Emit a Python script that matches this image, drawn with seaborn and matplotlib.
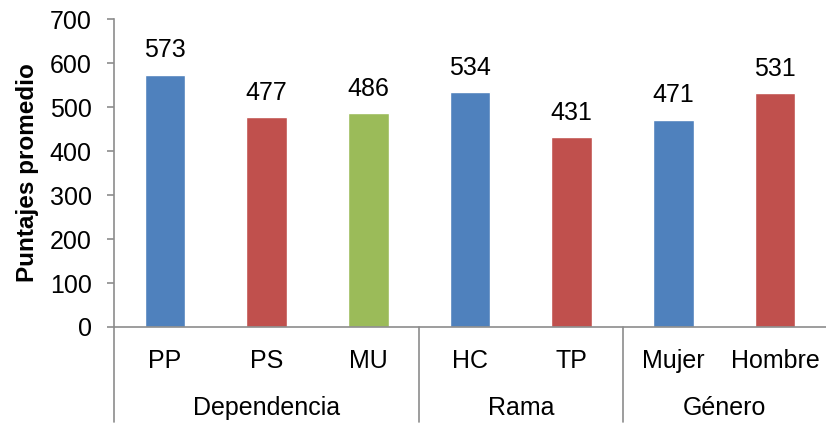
import matplotlib
matplotlib.use("Agg")
import matplotlib.pyplot as plt
import seaborn as sns
import pandas as pd
from matplotlib.lines import Line2D

categories = ["PP", "PS", "MU", "HC", "TP", "Mujer", "Hombre"]
values = [573, 477, 486, 534, 431, 471, 531]
groups = ["Dependencia", "Dependencia", "Dependencia", "Rama", "Rama", "Género", "Género"]
palette_keys = ["a", "b", "c", "a", "b", "a", "b"]
palette = {"a": "#4F81BD", "b": "#C0504D", "c": "#9BBB59"}
group_names = ["Dependencia", "Rama", "Género"]
y_ticks = [0, 100, 200, 300, 400, 500, 600, 700]

sns.set_theme(style="white")
plt.rcParams["font.family"] = ["Liberation Sans", "DejaVu Sans"]

df = pd.DataFrame({"cat": categories, "val": values, "key": palette_keys})

fig = plt.figure(figsize=(8.26, 4.25), dpi=100)
ax = fig.add_axes([0.138, 0.2306, 0.862, 0.7244])

sns.barplot(data=df, x="cat", y="val", hue="key", palette=palette,
            order=categories, width=0.4, dodge=False, legend=False,
            saturation=1, ax=ax)

for c in ax.containers:
    ax.bar_label(c, fmt="%d", padding=9, fontsize=18, color="black")

ax.set_ylim(0, 700)
ax.set_xlim(-0.5, len(categories) - 0.5)
ax.set_yticks(y_ticks)
ax.set_yticklabels([str(t) for t in y_ticks], fontsize=18, color="black")
ax.set_xticks(range(len(categories)))
ax.set_xticklabels(categories, fontsize=18, color="black")
ax.tick_params(axis="x", length=0, pad=16)
ax.tick_params(axis="y", length=5, width=1.2, color="#8C8C8C", left=True, direction="out", pad=11)
ax.set_xlabel("")
ax.set_ylabel("Puntajes promedio", fontsize=17.5, fontweight="bold", color="black", labelpad=8)

for s in ["top", "right"]:
    ax.spines[s].set_visible(False)
for s in ["left", "bottom"]:
    ax.spines[s].set_color("#8C8C8C")
    ax.spines[s].set_linewidth(1.2)

# group separators and group labels
bounds = [-0.5]
centers = []
i = 0
for g in group_names:
    n = groups.count(g)
    centers.append(i + (n - 1) / 2)
    i += n
    bounds.append(i - 0.5)

trans = ax.get_xaxis_transform()
for b in bounds[:-1]:
    ax.add_line(Line2D([b, b], [0, -0.31], transform=trans, color="#8C8C8C",
                       lw=1.2, clip_on=False))
for c, g in zip(centers, group_names):
    ax.text(c, -0.262, g, transform=trans, ha="center", va="center",
            fontsize=18, color="black")

fig.savefig("out.png", dpi=100)
